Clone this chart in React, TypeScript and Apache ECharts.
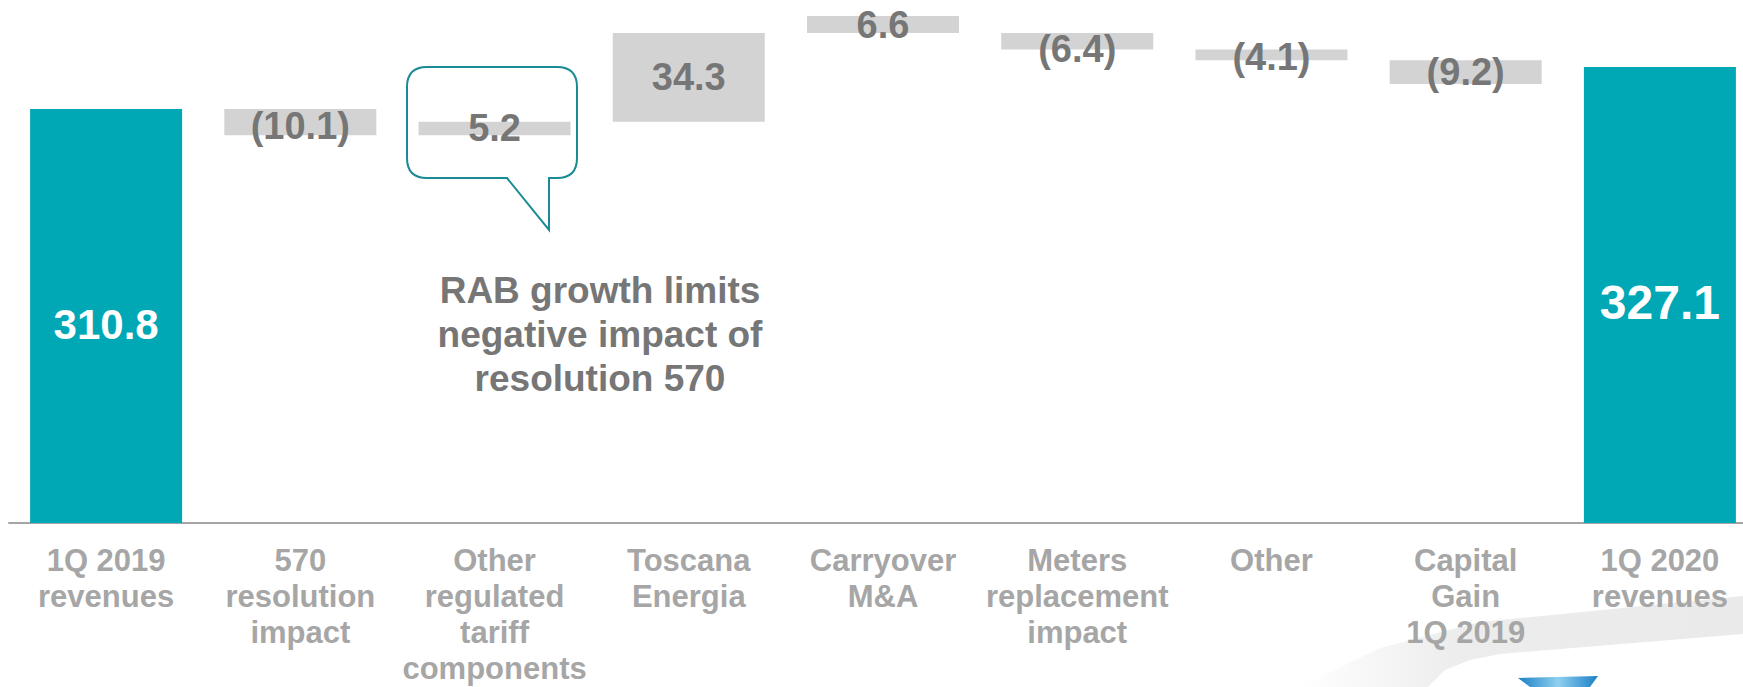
import React, { useEffect, useRef } from "react";
import * as echarts from "echarts";

// ---- data ----
const categories = [
  "1Q 2019\nrevenues",
  "570\nresolution\nimpact",
  "Other\nregulated\ntariff\ncomponents",
  "Toscana\nEnergia",
  "Carryover\nM&A",
  "Meters\nreplacement\nimpact",
  "Other",
  "Capital\nGain\n1Q 2019",
  "1Q 2020\nrevenues",
];
const totals: (number | null)[] = [310.8, null, null, null, null, null, null, null, 327.1];
const deltas: (number | null)[] = [null, -10.1, 5.2, 34.3, 6.6, -6.4, -4.1, -9.2, null];
// level where each step bar starts, as drawn in the reference
const stepStarts: (number | null)[] = [null, 310.8, 300.7, 305.9, 340.2, 340.2, 333.8, 329.7, null];
const annotationLines = ["RAB growth limits", "negative impact of", "resolution 570"];

const FONT = '"Liberation Sans", Arial, Helvetica, sans-serif';
const TEAL = "#00a7b5";
const STEP_GRAY = "#d3d3d3";
const VALUE_GRAY = "#767676";
const LABEL_GRAY = "#a6a6a6";
const TOTAL_LABEL_SIZE: Record<number, number> = { 0: 42, 8: 48 };
const STEP_LABEL_DY: Record<number, number> = { 1: 4, 5: 8, 6: 2 };

const bubblePath =
  "M427 67 H557 Q577 67 577 87 V158 Q577 178 557 178 H549 V230 L507 178 H427 Q407 178 407 158 V87 Q407 67 427 67 Z";

export default function App() {
  const ref = useRef<HTMLDivElement>(null);

  useEffect(() => {
    if (!ref.current) return;
    try {
      echarts.graphic.registerShape("bubble", echarts.graphic.extendPath(bubblePath, {}));
    } catch (e) {}
    const chart = echarts.init(ref.current, undefined, { renderer: "svg" });

    const baseData = deltas.map((d, i) =>
      d == null ? "-" : d < 0 ? +((stepStarts[i] as number) + d).toFixed(1) : (stepStarts[i] as number)
    );
    const stepData = deltas.map((d, i) =>
      d == null ? "-" : { value: Math.abs(d), label: { offset: [0, STEP_LABEL_DY[i] || 0] } }
    );
    const totalData = totals.map((t, i) =>
      t == null ? "-" : { value: t, label: { fontSize: TOTAL_LABEL_SIZE[i] || 42 } }
    );

    const option: any = {
      animation: false,
      grid: { left: 9, top: 0, width: 1748, height: 523, outerBoundsMode: "none", containLabel: false },
      xAxis: {
        type: "category",
        data: categories,
        axisLine: { show: true, lineStyle: { color: LABEL_GRAY, width: 2 } },
        axisTick: { show: false },
        axisLabel: {
          interval: 0,
          color: LABEL_GRAY,
          fontFamily: FONT,
          fontWeight: "bold",
          fontSize: 31,
          lineHeight: 36,
          margin: 19,
        },
      },
      yAxis: { type: "value", min: 150.6, max: 353, show: false, splitLine: { show: false } },
      series: [
        {
          type: "bar",
          stack: "w",
          barWidth: 152,
          data: baseData,
          itemStyle: { color: "rgba(0,0,0,0)" },
          silent: true,
        },
        {
          type: "bar",
          stack: "w",
          barWidth: 152,
          data: stepData,
          itemStyle: { color: STEP_GRAY },
          label: {
            show: true,
            position: "inside",
            color: VALUE_GRAY,
            fontFamily: FONT,
            fontWeight: "bold",
            fontSize: 38,
            formatter: (p: any) => {
              const d = deltas[p.dataIndex];
              if (d == null) return "";
              return d < 0 ? `(${Math.abs(d).toFixed(1)})` : d.toFixed(1);
            },
          },
        },
        {
          type: "bar",
          stack: "w",
          barWidth: 152,
          data: totalData,
          itemStyle: { color: TEAL },
          label: {
            show: true,
            position: "inside",
            color: "#ffffff",
            fontFamily: FONT,
            fontWeight: "bold",
            fontSize: 42,
            offset: [0, 8],
            formatter: (p: any) => (typeof p.value === "number" ? p.value.toFixed(1) : ""),
          },
        },
      ],
      graphic: [
        {
          type: "polygon",
          silent: true,
          z: -10,
          shape: {
            points: [
              [1300, 687],
              [1380, 648],
              [1480, 622],
              [1743, 596],
              [1743, 687],
            ],
          },
          style: {
            fill: new echarts.graphic.LinearGradient(0, 0, 1, 0, [
              { offset: 0, color: "rgba(225,225,225,0)" },
              { offset: 0.35, color: "rgba(225,225,225,0.6)" },
              { offset: 1, color: "rgba(232,232,232,0.9)" },
            ]),
          },
        },
        {
          type: "polygon",
          silent: true,
          z: -9,
          shape: {
            points: [
              [1428, 687],
              [1445, 670],
              [1470, 660],
              [1500, 654],
              [1743, 634],
              [1743, 687],
            ],
          },
          style: { fill: "#ffffff" },
        },
        {
          type: "polygon",
          silent: true,
          z: -8,
          shape: {
            points: [
              [1518, 678],
              [1598, 676],
              [1590, 687],
              [1530, 687],
            ],
          },
          style: {
            fill: new echarts.graphic.LinearGradient(0, 0, 1, 0, [
              { offset: 0, color: "#1a7fc4" },
              { offset: 0.5, color: "#8fd0f0" },
              { offset: 1, color: "#1a7fc4" },
            ]),
          },
        },
        {
          type: "bubble",
          x: 0,
          y: 0,
          silent: true,
          z: 100,
          style: { fill: "none", stroke: "#1a8a94", lineWidth: 2 },
        },
        {
          type: "text",
          x: 600,
          y: 334,
          silent: true,
          style: {
            text: annotationLines.join("\n"),
            fill: VALUE_GRAY,
            font: `bold 37px ${FONT}`,
            lineHeight: 44,
            align: "center",
            verticalAlign: "middle",
          },
        },
      ],
    };

    chart.setOption(option);
    return () => chart.dispose();
  }, []);

  return (
    <div
      ref={ref}
      style={{ position: "absolute", left: 0, top: 0, width: 1743, height: 687, background: "#ffffff" }}
    />
  );
}
